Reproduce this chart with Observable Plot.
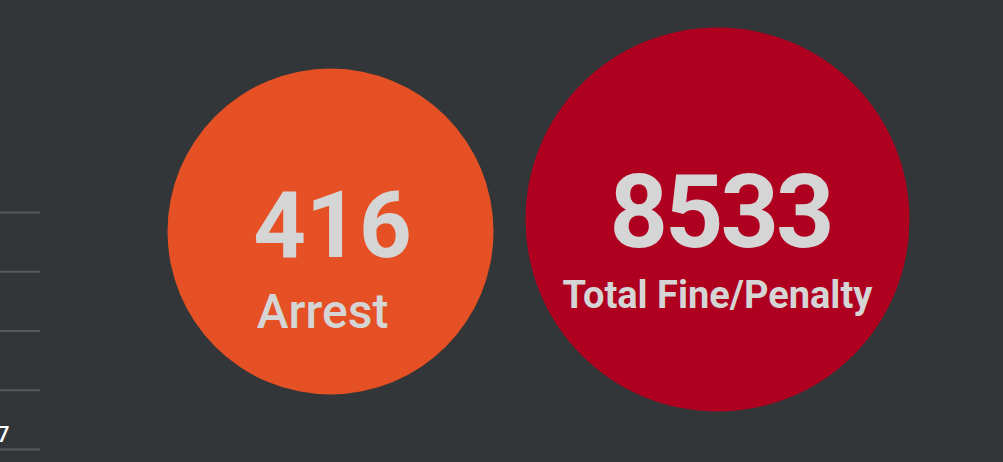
<!DOCTYPE html>
<html>
<head>
<meta charset="utf-8">
<script src="https://cdn.jsdelivr.net/npm/d3@7"></script>
<script src="https://cdn.jsdelivr.net/npm/@observablehq/plot@0.6"></script>
<style>
  html, body { margin: 0; padding: 0; background: #323638; }
  #wrap { position: relative; width: 1003px; height: 462px; background: #323638; overflow: hidden; font-family: Roboto, sans-serif; }
  #wrap > div, #wrap > svg { position: absolute; left: 0; top: 0; }
</style>
</head>
<body>
<div id="wrap"></div>
<script>
// Data
const categories = ["Arrest", "Total Fine/Penalty"];
const values = [416, 8533];
const colors = ["#E55024", "#B00020"];
// Fragment of the neighbouring chart at the left edge
const gridTicks = [0, 1, 2, 3, 4];
const fragmentLabel = "7";

const data = categories.map((c, i) => ({category: c, value: values[i]}));

const textColor = "#D5D5D5";

const main = Plot.plot({
  width: 1003,
  height: 462,
  margin: 0,
  style: {background: "transparent", fontFamily: "Roboto, sans-serif"},
  x: {type: "point", domain: categories, range: [330, 717], padding: 0, axis: null},
  y: {type: "point", domain: categories, range: [231, 219], padding: 0, axis: null},
  r: {type: "linear", domain: [416, 8533], range: [163, 192]},
  color: {domain: categories, range: colors},
  marks: [
    Plot.dot(data, {x: "category", y: "category", r: "value", fill: "category", stroke: null}),
    Plot.text([data[0]], {x: "category", y: "category", text: d => String(d.value), fill: textColor,
      fontSize: 92, fontWeight: 700, lineAnchor: "middle", dy: -4, dx: 2}),
    Plot.text([data[0]], {x: "category", y: "category", text: "category", fill: textColor,
      fontSize: 48, fontWeight: 500, lineAnchor: "middle", dy: 81, dx: -8}),
    Plot.text([data[1]], {x: "category", y: "category", text: d => String(d.value), fill: textColor,
      fontSize: 102, fontWeight: 700, lineAnchor: "middle", dy: -5, dx: 3}),
    Plot.text([data[1]], {x: "category", y: "category", text: "category", fill: textColor,
      fontSize: 38, fontWeight: 700, lineAnchor: "middle", dy: 76})
  ]
});

// slightly tighter digits for the large figure
d3.select(main).selectAll("text")
  .filter(function () { return this.textContent === String(values[1]); })
  .attr("letter-spacing", "-3px");

const frag = Plot.plot({
  width: 40,
  height: 462,
  margin: 0,
  style: {background: "transparent", fontFamily: "Roboto, sans-serif"},
  x: {domain: [0, 1], range: [0, 40], axis: null},
  y: {domain: [0, 4], range: [449, 212], axis: null},
  marks: [
    Plot.ruleY(gridTicks, {y: d => d, stroke: "#575B5D", strokeWidth: 2}),
    Plot.text([fragmentLabel], {x: () => 0, y: () => 0, text: d => d, fill: "#FFFFFF",
      fontSize: 22, fontWeight: 500, textAnchor: "end", lineAnchor: "bottom", dx: 9, dy: -8})
  ]
});

const wrap = document.getElementById("wrap");
wrap.appendChild(frag);
wrap.appendChild(main);
</script>
</body>
</html>
